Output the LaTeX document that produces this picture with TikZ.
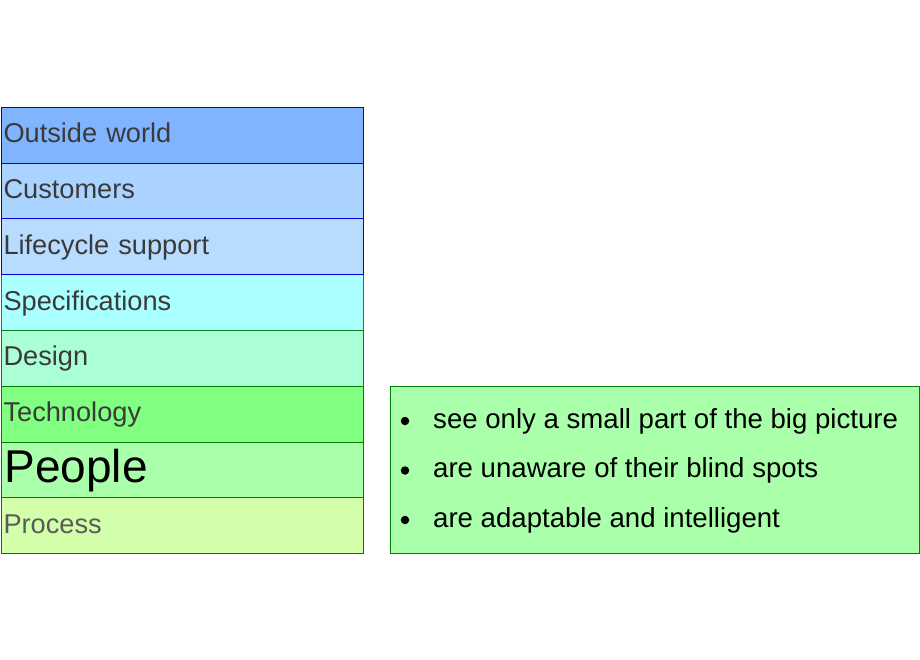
\documentclass[tikz,border=0pt]{standalone}
\usepackage{fontspec}
\setmainfont{Liberation Sans}
\definecolor{cOut}{HTML}{80B4FF}
\definecolor{cCus}{HTML}{AAD4FF}
\definecolor{cLif}{HTML}{B8DCFF}
\definecolor{cSpe}{HTML}{AAFFFF}
\definecolor{cDes}{HTML}{AAFFD4}
\definecolor{cTec}{HTML}{80FF80}
\definecolor{cPeo}{HTML}{AAFFAA}
\definecolor{cPro}{HTML}{D4FFAA}
\definecolor{bBlue}{HTML}{0000E0}
\definecolor{bTeal}{HTML}{008080}
\definecolor{bGreen}{HTML}{008000}
\definecolor{txtg}{HTML}{3A3A3A}
\definecolor{txtp}{HTML}{5A5A5A}
\tikzset{
  layer/.style={draw, line width=1pt, anchor=north west, minimum width=362pt,
    minimum height=55.75pt, text width=358pt, inner xsep=2pt, inner ysep=0pt, align=left,
    text height=20pt, text depth=5pt, text=txtg,
    font=\fontsize{27.2}{32}\selectfont},
  bigtxt/.style={font=\fontsize{27.6}{32}\selectfont, inner sep=0pt},
  dot/.style={circle, fill=black, inner sep=0pt, minimum size=8.5pt},
}
\begin{document}
\begin{tikzpicture}[x=1pt,y=-1pt]
\useasboundingbox (0,0) rectangle (920,660);
\node[layer, fill=cOut, draw=bBlue] (out) at (1,107) {Outside world};
\node[layer, fill=cCus, draw=bBlue] (cus) at (1,162.75) {Customers};
\node[layer, fill=cLif, draw=bBlue] (lif) at (1,218.5) {Lifecycle support};
\node[layer, fill=cSpe, draw=bTeal] (spe) at (1,274.25) {Specifications};
\node[layer, fill=cDes, draw=bGreen!70!bTeal] (des) at (1,330) {Design};
\node[layer, fill=cTec, draw=bGreen] (tec) at (1,385.75) {Technology};
\node[layer, fill=cPeo, draw=bGreen, text=black, text height=34pt, text depth=8pt,
      font=\fontsize{46}{52}\selectfont, inner xsep=3pt, text width=356pt] (peo) at (1,441.5) {People};
\node[layer, fill=cPro, draw=bGreen, text=txtp] (pro) at (1,497.25) {Process};
\draw[bBlue, line width=1pt] (spe.north west) -- (spe.north east);
\node[draw=bGreen, fill=cPeo, line width=1pt, anchor=north west, minimum width=529pt,
      minimum height=167pt, inner sep=0pt] (box) at (390,386) {};
\node[dot] (b1) at (405,421) {};
\node[bigtxt, anchor=base west] (t1) at (433,428) {see only a small part of the big picture};
\node[dot] (b2) at (405,470.5) {};
\node[bigtxt, anchor=base west] (t2) at (433,477.5) {are unaware of their blind spots};
\node[dot] (b3) at (405,520) {};
\node[bigtxt, anchor=base west] (t3) at (433,527) {are adaptable and intelligent};
\end{tikzpicture}
\end{document}
